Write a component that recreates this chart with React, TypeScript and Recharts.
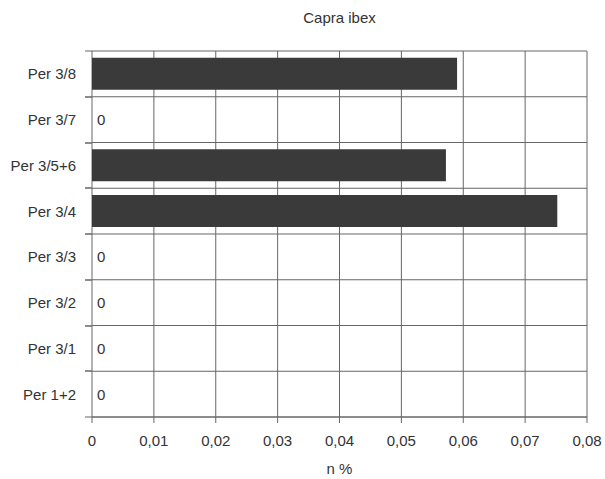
import React from 'react';
import { BarChart, Bar, XAxis, YAxis, CartesianGrid } from 'recharts';

const categories = ['Per 3/8', 'Per 3/7', 'Per 3/5+6', 'Per 3/4', 'Per 3/3', 'Per 3/2', 'Per 3/1', 'Per 1+2'];
const values = [0.059, 0, 0.0572, 0.0752, 0, 0, 0, 0];
const xTicks = [0, 0.01, 0.02, 0.03, 0.04, 0.05, 0.06, 0.07, 0.08];

const data = categories.map((name, i) => ({ name, value: values[i] }));

const FONT = '"Liberation Sans", Arial, sans-serif';
const TEXT = '#333';
const LINE = '#666';
const PLOT_H = 366;

const fmt = (v: number) => (v === 0 ? '0' : v.toFixed(2).replace('.', ','));

// category label, small marks on the row edges left of the plot, "0" for empty rows
const CategoryTick = (props: any) => {
  const { payload, index } = props;
  const x = Number(props.x);
  const y = Number(props.y);
  const half = PLOT_H / categories.length / 2;
  const ax = x + 16;
  const v = values[index !== undefined ? index : categories.indexOf(payload.value)];
  return (
    <g>
      <text x={x} y={y} textAnchor="end" dominantBaseline="central" fill={TEXT} fontSize={15} fontFamily={FONT}>
        {payload.value}
      </text>
      <rect x={ax - 7} y={Math.round(y - half) - 0.5} width={7} height={1} fill={LINE} />
      <rect x={ax - 7} y={Math.round(y + half) - 0.5} width={7} height={1} fill={LINE} />
      {v === 0 && (
        <text x={ax + 5} y={y} dominantBaseline="central" fill={TEXT} fontSize={15} fontFamily={FONT}>
          0
        </text>
      )}
    </g>
  );
};

export default function App() {
  return (
    <div style={{ position: 'absolute', left: 0, top: 0, width: 605, height: 479, background: '#fff', fontFamily: FONT }}>
      <div style={{ position: 'absolute', left: 92, width: 495, top: 9, textAlign: 'center', fontSize: 15, color: TEXT }}>
        Capra ibex
      </div>
      <BarChart
        width={605}
        height={479}
        data={data}
        layout="vertical"
        margin={{ top: 51, right: 18, left: 0, bottom: 0 }}
        barCategoryGap="15%"
      >
        <CartesianGrid
          stroke={LINE}
          horizontalCoordinatesGenerator={({ offset }: any) =>
            categories.map((_, i) => offset.top + (i * offset.height) / categories.length).concat(offset.top + offset.height)
          }
        />
        <XAxis
          type="number"
          domain={[0, 0.08]}
          ticks={xTicks}
          tickFormatter={fmt}
          height={62}
          stroke={LINE}
          tickSize={6}
          tickMargin={12}
          tick={{ fill: TEXT, fontSize: 15, fontFamily: FONT }}
          label={{ value: 'n %', position: 'insideBottom', offset: 5, fill: TEXT, fontSize: 15, fontFamily: FONT }}
        />
        <YAxis
          type="category"
          dataKey="name"
          width={92}
          axisLine={false}
          tickLine={false}
          tickSize={0}
          tickMargin={16}
          tick={<CategoryTick />}
          interval={0}
        />
        <Bar dataKey="value" fill="#3a3a3a" isAnimationActive={false} />
      </BarChart>
    </div>
  );
}
